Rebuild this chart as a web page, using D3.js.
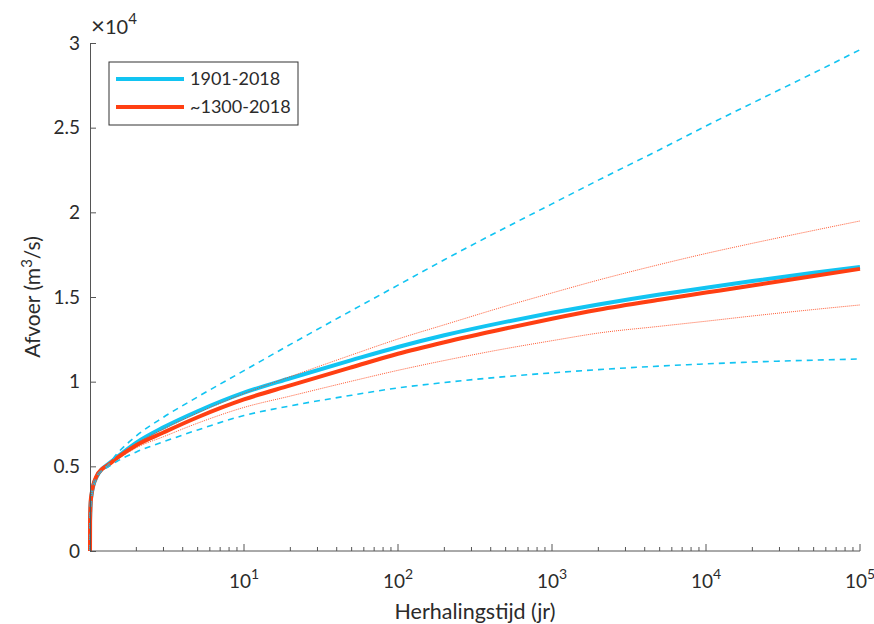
<!DOCTYPE html>
<html>
<head>
<meta charset="utf-8">
<script src="https://cdn.jsdelivr.net/npm/d3@7"></script>
<style>
  body { margin: 0; background: #fff; }
  svg { font-family: Lato, "Open Sans", sans-serif; }
</style>
</head>
<body>
<svg id="chart" width="874" height="624"></svg>
<script>
// herhalingstijd (jaar)
var T = [1.0001, 1.001, 1.01, 1.025, 1.05, 1.1, 1.2, 1.3, 1.5, 2, 3, 5, 10, 20, 50, 100, 200, 500, 1000, 2000, 5000, 10000, 20000, 50000, 100000]

// afvoer x 10^4 m3/s
var q1901 = [0, 0.17, 0.28, 0.335, 0.385, 0.435, 0.485, 0.51, 0.555, 0.64, 0.73, 0.825, 0.935, 1.02, 1.127, 1.205, 1.274, 1.353, 1.407, 1.456, 1.515, 1.555, 1.594, 1.643, 1.677]
var q1901Hi = [0, 0.15, 0.26, 0.32, 0.37, 0.43, 0.48, 0.505, 0.575, 0.68, 0.79, 0.91, 1.065, 1.22, 1.42, 1.57, 1.72, 1.91, 2.05, 2.19, 2.37, 2.51, 2.645, 2.823, 2.96]
var q1901Lo = [0, 0.2, 0.3, 0.35, 0.395, 0.44, 0.48, 0.495, 0.53, 0.585, 0.645, 0.715, 0.80, 0.857, 0.92, 0.963, 0.995, 1.03, 1.052, 1.071, 1.092, 1.105, 1.116, 1.127, 1.134]
var q1300 = [0, 0.18, 0.29, 0.34, 0.39, 0.44, 0.485, 0.505, 0.55, 0.625, 0.70, 0.79, 0.895, 0.978, 1.085, 1.165, 1.233, 1.314, 1.372, 1.425, 1.484, 1.526, 1.568, 1.624, 1.666]
var q1300Hi = [0, 0.17, 0.28, 0.335, 0.385, 0.435, 0.485, 0.51, 0.555, 0.635, 0.72, 0.815, 0.93, 1.03, 1.158, 1.252, 1.336, 1.446, 1.524, 1.60, 1.692, 1.757, 1.817, 1.893, 1.949]
var q1300Lo = [0, 0.18, 0.29, 0.34, 0.39, 0.44, 0.48, 0.50, 0.54, 0.61, 0.675, 0.755, 0.848, 0.915, 1.003, 1.067, 1.125, 1.195, 1.242, 1.287, 1.327, 1.357, 1.388, 1.426, 1.453]

var yTicks = [0, 0.5, 1, 1.5, 2, 2.5, 3]
var xTicks = [10, 100, 1000, 10000, 100000]
var names = ['1901-2018', '~1300-2018']

var blue = '#12c4f2', red = '#ff3f12', axisCol = '#555', txt = '#2b2b2b'

var svg = d3.select('#chart')
var x = d3.scaleLog().domain([1, 100000]).range([90, 860])
var y = d3.scaleLinear().domain([0, 3]).range([551, 43])

var line = ys => d3.line()
    .curve(d3.curveMonotoneX)
    .x((d, i) => x(T[i]))
    .y(d => y(d))(ys)

// lijnen
var series = [
    {v: q1901, c: blue, w: 4, dash: null, op: 1},
    {v: q1300, c: red, w: 4, dash: null, op: 1},
    {v: q1901Hi, c: blue, w: 1.6, dash: '6,5', op: 1},
    {v: q1901Lo, c: blue, w: 1.6, dash: '6,5', op: 1},
    {v: q1300Hi, c: red, w: 1, dash: '1,1', op: 0.85},
    {v: q1300Lo, c: red, w: 1, dash: '1,1', op: 0.85}
]
svg.append('g').selectAll('path')
    .data(series)
    .enter()
    .append('path')
    .attr('d', d => line(d.v))
    .attr('fill', 'none')
    .attr('stroke', d => d.c)
    .attr('stroke-width', d => d.w)
    .attr('stroke-dasharray', d => d.dash)
    .attr('stroke-opacity', d => d.op)

// y-as
var yAxis = svg.append('g')
    .attr('transform', 'translate(90,0)')
    .call(d3.axisLeft(y).tickValues(yTicks).tickSizeInner(-6).tickSizeOuter(0).tickPadding(10).tickFormat(d3.format('')))
yAxis.select('.domain').attr('stroke', axisCol)
yAxis.selectAll('line').attr('stroke', axisCol)
yAxis.selectAll('text').attr('font-size', 19).attr('fill', txt).attr('font-family', 'Lato')

// x-as
var minor = []
for (var e = 0; e < 5; e++) for (var k = 2; k < 10; k++) minor.push(k * Math.pow(10, e))
var xg = svg.append('g').attr('transform', 'translate(0,551)')
xg.append('line').attr('x1', 90).attr('x2', 860).attr('stroke', axisCol)
xg.selectAll('.minor').data(minor).enter().append('line')
    .attr('x1', d => x(d)).attr('x2', d => x(d)).attr('y1', 0).attr('y2', -4)
    .attr('stroke', axisCol)
xg.selectAll('.major').data(xTicks).enter().append('line')
    .attr('x1', d => x(d)).attr('x2', d => x(d)).attr('y1', 0).attr('y2', -7)
    .attr('stroke', axisCol)
xg.selectAll('text').data(xTicks).enter().append('text')
    .attr('x', d => x(d))
    .attr('y', 37)
    .attr('text-anchor', 'middle')
    .attr('font-size', 19)
    .attr('fill', txt)
    .each(function (d) {
        var t = d3.select(this)
        t.append('tspan').text('10')
        t.append('tspan').attr('dy', -9).attr('font-size', 14).text(Math.round(Math.log10(d)))
    })

// as-titels
svg.append('text')
    .attr('x', 475).attr('y', 619)
    .attr('text-anchor', 'middle').attr('font-size', 21.5).attr('fill', txt)
    .text('Herhalingstijd (jr)')

var yt = svg.append('text')
    .attr('transform', 'translate(40,297) rotate(-90)')
    .attr('text-anchor', 'middle').attr('font-size', 21).attr('fill', txt)
yt.append('tspan').text('Afvoer (m')
yt.append('tspan').attr('dy', -8).attr('font-size', 15).text('3')
yt.append('tspan').attr('dy', 8).text('/s)')

var ex = svg.append('text')
    .attr('x', 91).attr('y', 34).attr('font-size', 20).attr('fill', txt)
ex.append('tspan').attr('font-size', 24).text('\u00d7')
ex.append('tspan').text('10')
ex.append('tspan').attr('dy', -10).attr('font-size', 15).text('4')

// legenda
var lg = svg.append('g').attr('transform', 'translate(109,62)')
lg.append('rect').attr('width', 189).attr('height', 63)
    .attr('fill', '#fff').attr('stroke', '#333').attr('stroke-width', 1)
lg.selectAll('g').data(names).enter().append('g')
    .each(function (d, i) {
        var g = d3.select(this)
        g.append('line').attr('x1', 7).attr('x2', 75).attr('y1', 17 + i * 28).attr('y2', 17 + i * 28)
            .attr('stroke', i == 0 ? blue : red).attr('stroke-width', 4)
        g.append('text').attr('x', 81).attr('y', 23 + i * 28)
            .attr('font-size', 18).attr('fill', txt).text(d)
    })
</script>
</body>
</html>
